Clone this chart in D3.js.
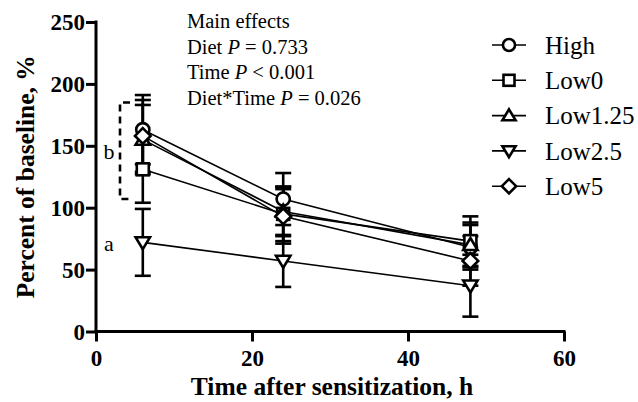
<!DOCTYPE html>
<html><head><meta charset="utf-8">
<script src="https://cdn.jsdelivr.net/npm/d3@7"></script>
<style>body{margin:0;background:#fff}svg{display:block}</style>
</head><body>
<svg id="c" width="638" height="402"></svg>
<script>
const times = [6, 24, 48];
const seriesNames = ["High", "Low0", "Low1.25", "Low2.5", "Low5"];
const symbols = ["circle", "square", "triangle", "down", "diamond"];
const high = [163, 107, 68];
const low0 = [131, 95, 73];
const low125 = [155, 97, 70];
const low25 = [72, 57, 37];
const low5 = [158, 93, 57];
const highErr = [28, 21, 18];
const low0Err = [27, 22, 20];
const low125Err = [28, 20, 18];
const low25Err = [27, 21, 25];
const low5Err = [29, 22, 20];
const xTicks = [0, 20, 40, 60];
const yTicks = [0, 50, 100, 150, 200, 250];
const statLines = ["Main effects", "Diet |P| = 0.733", "Time |P| < 0.001", "Diet*Time |P| = 0.026"];
const groupLabels = [{t: "b", v: 145}, {t: "a", v: 71}];
const bracket = [185, 107];

const values = [high, low0, low125, low25, low5];
const errs = [highErr, low0Err, low125Err, low25Err, low5Err];

const svg = d3.select("#c");
const x = d3.scaleLinear().domain([0, 60]).range([96, 564]);
const y = d3.scaleLinear().domain([0, 250]).range([331.5, 22]);
const serif = "'Liberation Serif','Times New Roman',serif";

function drawSymbol(g, type, cx, cy, s) {
  const sw = 2.6;
  if (type === "circle") {
    g.append("circle").attr("cx", cx).attr("cy", cy).attr("r", s * 0.55)
      .attr("fill", "#fff").attr("stroke", "#000").attr("stroke-width", sw);
  } else if (type === "square") {
    g.append("rect").attr("x", cx - s * 0.5).attr("y", cy - s * 0.5).attr("width", s).attr("height", s)
      .attr("fill", "#fff").attr("stroke", "#000").attr("stroke-width", sw);
  } else if (type === "triangle") {
    const h = s * 0.95;
    g.append("path").attr("d", `M${cx},${cy - h * 0.6}L${cx + s * 0.6},${cy + h * 0.45}L${cx - s * 0.6},${cy + h * 0.45}Z`)
      .attr("fill", "#fff").attr("stroke", "#000").attr("stroke-width", sw);
  } else if (type === "down") {
    const h = s * 0.95;
    g.append("path").attr("d", `M${cx},${cy + h * 0.6}L${cx + s * 0.6},${cy - h * 0.45}L${cx - s * 0.6},${cy - h * 0.45}Z`)
      .attr("fill", "#fff").attr("stroke", "#000").attr("stroke-width", sw);
  } else if (type === "diamond") {
    const r = s * 0.65;
    g.append("path").attr("d", `M${cx},${cy - r}L${cx + r},${cy}L${cx},${cy + r}L${cx - r},${cy}Z`)
      .attr("fill", "#fff").attr("stroke", "#000").attr("stroke-width", sw);
  }
}

// lines
const line = d3.line().x((d, i) => x(times[i])).y(d => y(d));
values.forEach(v => {
  svg.append("path").attr("d", line(v)).attr("fill", "none").attr("stroke", "#000").attr("stroke-width", 1.6);
});
// error bars
values.forEach((v, si) => {
  v.forEach((d, i) => {
    const cx = x(times[i]), e = errs[si][i];
    svg.append("line").attr("x1", cx).attr("x2", cx).attr("y1", y(d + e)).attr("y2", y(d - e))
      .attr("stroke", "#000").attr("stroke-width", 2.6);
    [d + e, d - e].forEach(c => {
      svg.append("line").attr("x1", cx - 8).attr("x2", cx + 8).attr("y1", y(c)).attr("y2", y(c))
        .attr("stroke", "#000").attr("stroke-width", 2.6);
    });
  });
});
// markers
values.forEach((v, si) => {
  v.forEach((d, i) => drawSymbol(svg, symbols[si], x(times[i]), y(d), 12));
});

// axes
const xAxis = d3.axisBottom(x).tickValues(xTicks).tickSize(10).tickSizeOuter(0);
const gx = svg.append("g").attr("transform", `translate(0,${y(0)})`).call(xAxis);
gx.select(".domain").attr("stroke-width", 3).attr("d", `M${x(0) - 1.5},0H${x(60) + 1.5}`);
gx.selectAll(".tick line").attr("stroke-width", 3);
gx.selectAll(".tick text").attr("font-family", serif).attr("font-weight", "bold").attr("font-size", 23)
  .attr("fill", "#000").attr("dy", null).attr("y", 34);

const yAxis = d3.axisLeft(y).tickValues(yTicks).tickSize(10).tickSizeOuter(0);
const gy = svg.append("g").attr("transform", `translate(${x(0)},0)`).call(yAxis);
gy.select(".domain").attr("stroke-width", 3).attr("d", `M0,${y(0) + 1.5}V${y(250) - 1.5}`);
gy.selectAll(".tick line").attr("stroke-width", 3);
gy.selectAll(".tick text").attr("font-family", serif).attr("font-weight", "bold").attr("font-size", 23)
  .attr("fill", "#000").attr("x", -11).attr("dy", "0.34em");

// axis titles
svg.append("text").attr("x", 332).attr("y", 395).attr("text-anchor", "middle")
  .attr("font-family", serif).attr("font-weight", "bold").attr("font-size", 25.5).text("Time after sensitization, h");
svg.append("text").attr("transform", `translate(34,${(y(0) + y(250)) / 2}) rotate(-90)`).attr("text-anchor", "middle")
  .attr("font-family", serif).attr("font-weight", "bold").attr("font-size", 25.5).text("Percent of baseline, %");

// stats text
statLines.forEach((s, i) => {
  const t = svg.append("text").attr("x", 187).attr("y", 28 + i * 25.7)
    .attr("font-family", serif).attr("font-size", 20.5).attr("fill", "#000");
  s.split("|").forEach((part, j) => {
    t.append("tspan").attr("font-style", j === 1 ? "italic" : "normal").text(part);
  });
});

// bracket
svg.append("path").attr("d", `M130,${y(bracket[0])}H120V${y(bracket[1])}H130`)
  .attr("fill", "none").attr("stroke", "#000").attr("stroke-width", 2.6).attr("stroke-dasharray", "7,5");
groupLabels.forEach(g => {
  svg.append("text").attr("x", 109).attr("y", y(g.v)).attr("dy", "0.32em").attr("text-anchor", "middle")
    .attr("font-family", serif).attr("font-size", 22).text(g.t);
});

// legend
seriesNames.forEach((n, i) => {
  const ly = 45 + i * 35.3;
  const g = svg.append("g");
  g.append("line").attr("x1", 492).attr("x2", 526).attr("y1", ly).attr("y2", ly).attr("stroke", "#000").attr("stroke-width", 1.6);
  drawSymbol(g, symbols[i], 509, ly, 11);
  g.append("text").attr("x", 545).attr("y", ly).attr("dy", "0.35em")
    .attr("font-family", serif).attr("font-size", 25).text(n);
});
</script>
</body></html>
